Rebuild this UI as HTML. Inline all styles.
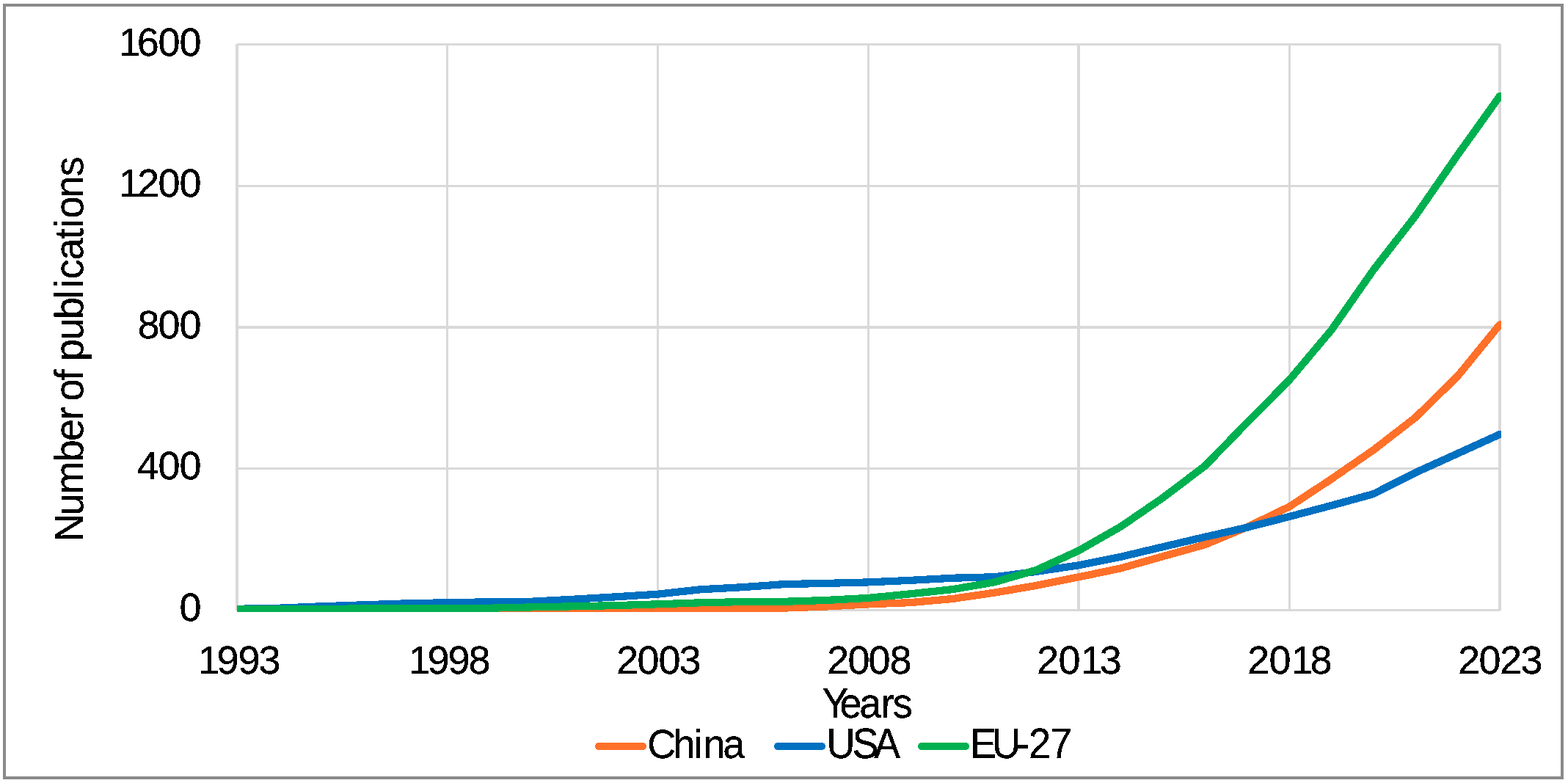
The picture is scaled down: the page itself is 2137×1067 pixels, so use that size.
<!DOCTYPE html>
<html lang="en"><head><meta charset="utf-8"><title>Number of publications per year: China, USA, EU-27</title>
<style>html,body{margin:0;padding:0;background:#fff}body{width:2137px;height:1067px}svg{display:block}text{font-family:"Liberation Sans", sans-serif;font-size:54px;fill:#000;stroke:#000;stroke-width:0.3px;font-kerning:none}</style></head><body>
<svg width="2137" height="1067" viewBox="0 0 2137 1067" role="img" aria-label="Line chart: number of publications by year for China, USA and EU-27">
<rect x="0" y="0" width="2137" height="1067" fill="#fff"/>
<rect x="6" y="7" width="2123" height="1053" fill="none" stroke="#8A8A8A" stroke-width="4" shape-rendering="crispEdges"/>
<g fill="#D9D9D9" shape-rendering="crispEdges">
<rect x="323" y="59" width="1721" height="3"/>
<rect x="323" y="252" width="1721" height="3"/>
<rect x="323" y="444" width="1721" height="4"/>
<rect x="323" y="637" width="1721" height="3"/>
<rect x="323" y="830" width="1721" height="3"/>
<rect x="321" y="60" width="4" height="772"/>
<rect x="608" y="60" width="3" height="772"/>
<rect x="895" y="60" width="3" height="772"/>
<rect x="1182" y="60" width="3" height="772"/>
<rect x="1468" y="60" width="4" height="772"/>
<rect x="1756" y="60" width="3" height="772"/>
<rect x="2042" y="60" width="4" height="772"/>
</g>
<defs><clipPath id="plot"><rect x="323" y="50" width="1723" height="784"/></clipPath><filter id="crisp" filterUnits="userSpaceOnUse" x="0" y="0" width="2137" height="1067" color-interpolation-filters="sRGB"><feComponentTransfer><feFuncA type="discrete" tableValues="0 1"/></feComponentTransfer></filter></defs>
<g clip-path="url(#plot)" shape-rendering="crispEdges">
<polyline points="323,831 380.37,831 437.73,831 495.1,831 552.47,831 609.83,831 667.2,831 724.57,831 781.93,831 839.3,830.8 896.67,830.5 954.03,830.2 1011.4,830 1068.77,828.6 1126.13,826.5 1183.5,823.4 1240.87,821.11 1298.23,816 1355.6,807.6 1412.97,797.8 1470.33,786.3 1527.7,774.35 1585.07,758.14 1642.43,742.14 1699.8,718.2 1757.17,690.5 1814.53,652.8 1871.9,613.2 1929.27,568.8 1986.63,512.6 2044,442.3" fill="none" stroke="#FF7029" stroke-width="10.2" stroke-linejoin="round" stroke-linecap="round"/>
<polyline points="323,829.8 380.37,828.7 437.73,826.3 495.1,824.3 552.47,822.4 609.83,821.2 667.2,820.3 724.57,819.7 781.93,816.7 839.3,813.3 896.67,809.66 954.03,803.34 1011.4,800.21 1068.77,796.1 1126.13,794.9 1183.5,793.4 1240.87,790.83 1298.23,787.72 1355.6,786.25 1412.97,778.8 1470.33,770.25 1527.7,758.75 1585.07,745.15 1642.43,731.7 1699.8,718.7 1757.17,704 1814.53,688.9 1871.9,673.1 1929.27,644 1986.63,618 2044,591.9" fill="none" stroke="#0070C0" stroke-width="10.2" stroke-linejoin="round" stroke-linecap="round"/>
<polyline points="323,830.1 380.37,830 437.73,829.8 495.1,829.5 552.47,829.3 609.83,829.1 667.2,828.7 724.57,827.4 781.93,826.3 839.3,825.1 896.67,823.3 954.03,821.35 1011.4,820.1 1068.77,819.8 1126.13,817.95 1183.5,814.9 1240.87,809.3 1298.23,803.1 1355.6,793.3 1412.97,776.55 1470.33,750.3 1527.7,717.5 1585.07,678.2 1642.43,634.8 1699.8,575.7 1757.17,517.9 1814.53,449.8 1871.9,367.7 1929.27,294 1986.63,211.1 2044,131" fill="none" stroke="#00B050" stroke-width="10.2" stroke-linejoin="round" stroke-linecap="round"/>
</g>
<g filter="url(#crisp)">
<text x="161.65 186.75 215.41 244.46" y="0" transform="translate(0 76.3) scale(1 1.01)">1600</text>
<text x="161.65 186.93 215.41 244.46" y="0" transform="translate(0 268.3) scale(1 1.01)">1200</text>
<text x="187.48 215.41 244.46" y="0" transform="translate(0 461.3) scale(1 1.01)">800</text>
<text x="186.66 215.41 244.46" y="0" transform="translate(0 653.3) scale(1 1.01)">400</text>
<text x="244.46" y="0" transform="translate(0 846.3) scale(1 1.01)">0</text>
<text x="269.75 295.55 324.4 352.59" y="0" transform="translate(0 918.3) scale(1 1.01)">1993</text>
<text x="556.75 582.45 610.5 638.53" y="0" transform="translate(0 918.3) scale(1 1.01)">1998</text>
<text x="839.93 868.53 897.38 925.59" y="0" transform="translate(0 918.3) scale(1 1.01)">2003</text>
<text x="1126.93 1155.53 1183.48 1212.43" y="0" transform="translate(0 918.3) scale(1 1.01)">2008</text>
<text x="1412.93 1442.51 1472.75 1498.64" y="0" transform="translate(0 918.3) scale(1 1.01)">2013</text>
<text x="1699.93 1729.51 1759.7 1785.51" y="0" transform="translate(0 918.3) scale(1 1.01)">2018</text>
<text x="1986.93 2015.53 2043.93 2072.59" y="0" transform="translate(0 918.3) scale(1 1.01)">2023</text>
<text x="1120.54 1144.56 1171.26 1200.81 1216.7" y="0" transform="translate(0 977.6) scale(1 1.06)">Years</text>
<text x="-738.41 -702.48 -673.15 -629.25 -601.06 -572.29 -556.1 -546.52 -518.47 -504.97 -492.12 -463.48 -434.97 -407.36 -392.49 -380.19 -354.56 -325.91 -310.29 -297.52 -269.31 -240.28" y="0" transform="translate(113 0) rotate(-90) scale(1 1.035)">Number of publications</text>
<text x="882.21 917.42 945.46 958.42 985.31" y="0" transform="translate(0 1032.6) scale(1 1.04)">China</text>
<text x="1126.6 1161.55 1191.04" y="0" transform="translate(0 1032.6) scale(1 1.075)">USA</text>
<text x="1322.34 1352 1385 1402.03 1430.93" y="0" transform="translate(0 1032.6) scale(1 1.06)">EU-27</text>
</g>
<g stroke-width="10" stroke-linecap="round" fill="none" shape-rendering="crispEdges">
<line x1="816" y1="1017" x2="876" y2="1017" stroke="#FF7029"/>
<line x1="1060" y1="1017" x2="1120" y2="1017" stroke="#0070C0"/>
<line x1="1256" y1="1017" x2="1316" y2="1017" stroke="#00B050"/>
</g>
</svg></body></html>
